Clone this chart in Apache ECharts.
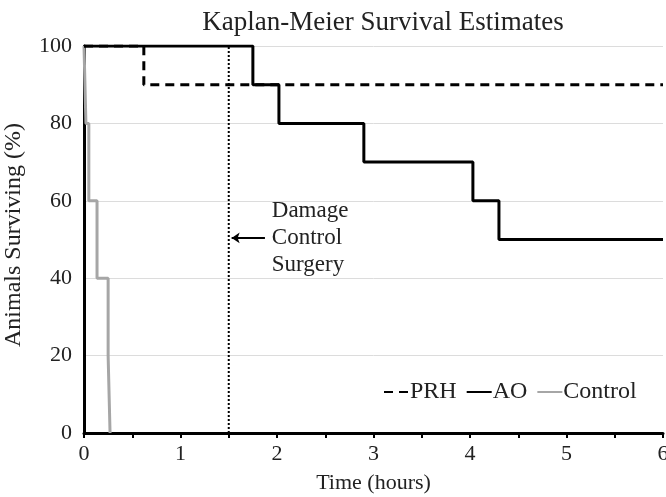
<!DOCTYPE html>
<html>
<head>
<meta charset="utf-8">
<script src="https://cdn.jsdelivr.net/npm/echarts@6/dist/echarts.min.js"></script>
<style>
  html, body { margin: 0; padding: 0; background: #fff; }
  #chart { width: 666px; height: 497px; }
</style>
</head>
<body>
<div id="chart"></div>
<script>
// Kaplan-Meier step points: [time (hours), % surviving]
const prhData = [[0, 100], [0.62, 90], [6, 90]];
const aoData = [[0, 100], [1.75, 90], [2.02, 80], [2.9, 70], [4.03, 60], [4.3, 50], [6, 50]];
const controlData = [[0, 100], [0.02, 80], [0.05, 60], [0.135, 40], [0.25, 20], [0.27, 0]];
const surgeryTime = 1.5;
const surgeryLine = [[surgeryTime, 0], [surgeryTime, 100]];
const noteText = 'Damage\nControl\nSurgery';

const FONT = '"Liberation Serif", "DejaVu Serif", serif';
const TXT = '#222';

const chart = echarts.init(document.getElementById('chart'));

const option = {
  animation: false,
  backgroundColor: '#fff',
  title: {
    text: 'Kaplan-Meier Survival Estimates',
    left: 378,
    textAlign: 'center',
    top: 4,
    textStyle: { fontFamily: FONT, fontSize: 27, fontWeight: 'normal', color: TXT }
  },
  grid: { left: 84, right: 3, top: 46, bottom: 64, containLabel: false, outerBoundsMode: 'none' },
  legend: {
    left: 383,
    top: 380,
    padding: 0,
    itemWidth: 25,
    itemHeight: 12,
    itemGap: 9,
    data: ['PRH', 'AO', 'Control'],
    itemStyle: { opacity: 0 },
    textStyle: { fontFamily: FONT, fontSize: 24, color: TXT, padding: [0, 0, 0, -4] }
  },
  xAxis: {
    type: 'value',
    min: 0,
    max: 6,
    interval: 0.5,
    name: 'Time (hours)',
    nameLocation: 'middle',
    nameGap: 39,
    nameTextStyle: { fontFamily: FONT, fontSize: 22, color: TXT },
    axisLine: { lineStyle: { color: '#000', width: 3 } },
    axisTick: { show: true, length: 5, lineStyle: { color: '#000', width: 2 } },
    axisLabel: {
      fontFamily: FONT, fontSize: 22, color: TXT, margin: 10,
      formatter: v => (Number.isInteger(v) ? String(v) : '')
    },
    splitLine: { show: false }
  },
  yAxis: {
    type: 'value',
    min: 0,
    max: 100,
    interval: 20,
    name: 'Animals Surviving (%)',
    nameLocation: 'middle',
    nameGap: 58,
    nameTextStyle: { fontFamily: FONT, fontSize: 24, color: TXT, padding: [0, 0, 0, 9] },
    axisLine: { show: true, lineStyle: { color: '#000', width: 3 } },
    axisTick: { show: false },
    axisLabel: { fontFamily: FONT, fontSize: 22, color: TXT, margin: 12 },
    splitLine: { lineStyle: { color: '#dcdcdc', width: 1 } }
  },
  series: [
    {
      name: 'Damage Control Surgery',
      type: 'line',
      data: surgeryLine,
      symbol: 'none',
      silent: true,
      z: 1,
      lineStyle: { color: '#000', width: 2, type: [2, 2] },
      markLine: {
        silent: true,
        symbol: ['none', 'arrow'],
        symbolSize: [8, 8],
        label: { show: false },
        lineStyle: { color: '#000', width: 2, type: 'solid' },
        data: [[{ coord: [1.875, 50.4] }, { coord: [1.53, 50.4] }]]
      },
      markPoint: {
        silent: true,
        symbol: 'circle',
        symbolSize: 0,
        data: [{ coord: [1.946, 50.4] }],
        label: {
          show: true,
          position: 'right',
          distance: 0,
          formatter: noteText,
          fontFamily: FONT,
          fontSize: 23,
          lineHeight: 27,
          color: TXT,
          align: 'left'
        }
      }
    },
    {
      name: 'Control',
      type: 'line',
      step: 'end',
      data: controlData,
      symbol: 'none',
      z: 2,
      color: '#a6a6a6',
      lineStyle: { color: '#a6a6a6', width: 3 }
    },
    {
      name: 'PRH',
      type: 'line',
      step: 'end',
      data: prhData,
      symbol: 'none',
      z: 3,
      color: '#000',
      lineStyle: { color: '#000', width: 3, type: [9, 6] }
    },
    {
      name: 'AO',
      type: 'line',
      step: 'end',
      data: aoData,
      symbol: 'none',
      z: 4,
      color: '#000',
      lineStyle: { color: '#000', width: 3 }
    }
  ]
};

chart.setOption(option);
</script>
</body>
</html>
